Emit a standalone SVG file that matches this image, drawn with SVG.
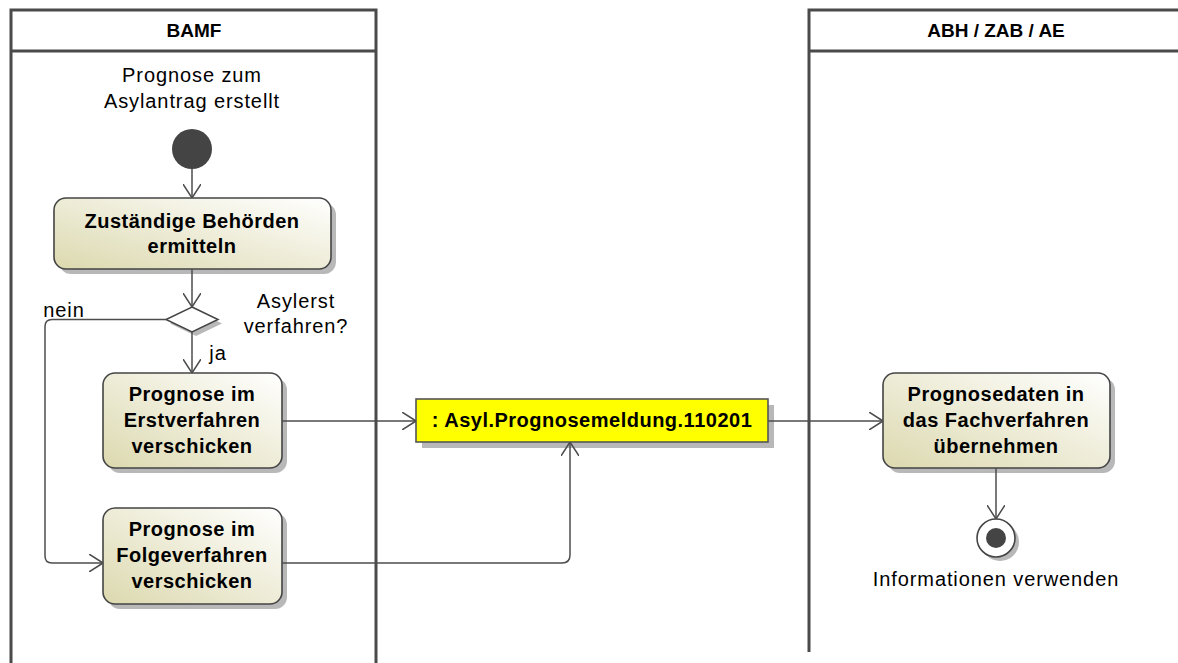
<svg xmlns="http://www.w3.org/2000/svg" width="1178" height="663" viewBox="0 0 1178 663">
<style>
.lane{fill:none;stroke:#4a4a4a;stroke-width:3}
.hdr{font-family:"Liberation Sans",Arial,sans-serif;font-size:19px;font-weight:bold;fill:#000;text-anchor:middle}
.lbl{font-family:"Liberation Sans",Arial,sans-serif;font-size:20px;letter-spacing:0.9px;fill:#000;text-anchor:middle}
.act{font-family:"Liberation Sans",Arial,sans-serif;font-size:20px;font-weight:bold;letter-spacing:0.5px;fill:#000;text-anchor:middle}
.box{fill:url(#g);stroke:#444;stroke-width:1.6}
.shd{fill:#b8b8b8}
.edge{fill:none;stroke:#4d4d4d;stroke-width:1.5}
</style>
<defs>
<linearGradient id="g" x1="0" y1="1" x2="1" y2="0">
<stop offset="0" stop-color="#dcd9af"/>
<stop offset="1" stop-color="#ffffff"/>
</linearGradient>
<marker id="a" viewBox="0 0 14 18" refX="14" refY="9" markerWidth="14" markerHeight="18" orient="auto" markerUnits="userSpaceOnUse">
<path d="M0,0 L14,9 L0,18" fill="none" stroke="#4d4d4d" stroke-width="1.5"/>
</marker>
</defs>
<rect width="1178" height="663" fill="#fff"/>
<g id="lane-bamf">
<path class="lane" d="M11,670 V10 H376 V670 M11,51 H376"/>
<text class="hdr" x="194" y="37">BAMF</text>
</g>
<g id="lane-abh">
<path class="lane" d="M809,652 V10 H1180 M809,51 H1180"/>
<text class="hdr" x="996" y="37">ABH / ZAB / AE</text>
</g>
<g id="start">
<text class="lbl" x="192" y="82">Prognose zum</text>
<text class="lbl" x="192" y="108">Asylantrag erstellt</text>
<circle cx="192" cy="149" r="20" fill="#444"/>
</g>
<g id="act-zustaendig">
<rect class="shd" x="59" y="203" width="277" height="71" rx="12"/>
<rect class="box" x="54" y="198" width="277" height="71" rx="12"/>
<text class="act" x="192" y="228">Zuständige Behörden</text>
<text class="act" x="192" y="253">ermitteln</text>
</g>
<g id="decision">
<polygon points="196,311 222,323.5 196,336 170,323.5" fill="#b8b8b8"/>
<polygon points="192,307 218,319.5 192,332 166,319.5" fill="#fff" stroke="#444" stroke-width="1.5"/>
<text class="lbl" x="296" y="308">Asylerst</text>
<text class="lbl" x="296" y="333">verfahren?</text>
</g>
<g id="act-erst">
<rect class="shd" x="108" y="378" width="179" height="95" rx="12"/>
<rect class="box" x="103" y="373" width="179" height="95" rx="12"/>
<text class="act" x="192" y="401">Prognose im</text>
<text class="act" x="192" y="427">Erstverfahren</text>
<text class="act" x="192" y="453">verschicken</text>
</g>
<g id="act-folge">
<rect class="shd" x="108" y="513" width="179" height="96" rx="12"/>
<rect class="box" x="103" y="508" width="179" height="96" rx="12"/>
<text class="act" x="192" y="536">Prognose im</text>
<text class="act" x="192" y="562">Folgeverfahren</text>
<text class="act" x="192" y="588">verschicken</text>
</g>
<g id="object">
<rect x="422" y="405" width="352" height="43" fill="#b8b8b8"/>
<rect x="416" y="399" width="352" height="43" fill="#ffff00" stroke="#555" stroke-width="1.6"/>
<text class="act" x="592" y="427">: Asyl.Prognosemeldung.110201</text>
</g>
<g id="act-uebernehmen">
<rect class="shd" x="888" y="378" width="227" height="95" rx="12"/>
<rect class="box" x="883" y="373" width="227" height="95" rx="12"/>
<text class="act" x="996" y="401">Prognosedaten in</text>
<text class="act" x="996" y="427">das Fachverfahren</text>
<text class="act" x="996" y="453">übernehmen</text>
</g>
<g id="end">
<circle cx="1000" cy="542" r="19" fill="#b8b8b8"/>
<circle cx="996" cy="538" r="19" fill="#fff" stroke="#444" stroke-width="1.6"/>
<circle cx="996" cy="538" r="10" fill="#444"/>
<text class="lbl" x="996" y="586">Informationen verwenden</text>
</g>
<g id="connectors">
<path class="edge" d="M192,169 V198" marker-end="url(#a)"/>
<path class="edge" d="M192,269 V307" marker-end="url(#a)"/>
<path class="edge" d="M192,332 V373" marker-end="url(#a)"/>
<path class="edge" d="M166,319.5 H52 Q45,319.5 45,326.5 V556 Q45,563 52,563 H103" marker-end="url(#a)"/>
<path class="edge" d="M282,421 H416" marker-end="url(#a)"/>
<path class="edge" d="M282,563 H562 Q570,563 570,555 V442" marker-end="url(#a)"/>
<path class="edge" d="M768,421 H883" marker-end="url(#a)"/>
<path class="edge" d="M996,468 V519" marker-end="url(#a)"/>
<text class="lbl" x="64" y="317">nein</text>
<text class="lbl" x="218" y="360">ja</text>
</g>
</svg>
